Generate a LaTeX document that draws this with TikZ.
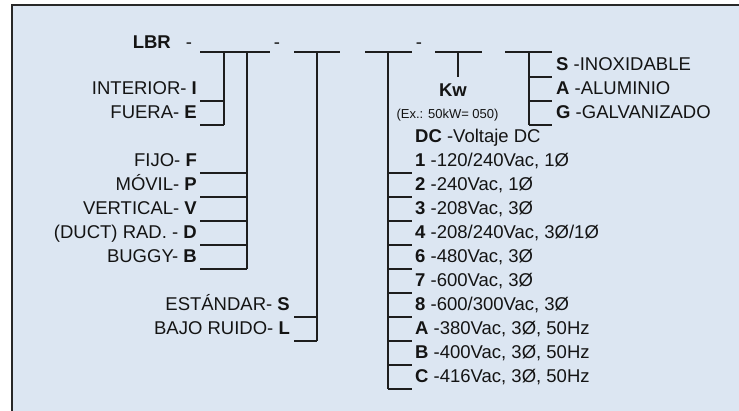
\documentclass[tikz,border=0pt]{standalone}
\usepackage{fontspec}
\setmainfont{Liberation Sans}
\definecolor{bgc}{RGB}{220,230,242}
\definecolor{txt}{RGB}{20,20,20}
\definecolor{wirec}{RGB}{30,30,30}
\definecolor{bordc}{RGB}{40,40,40}
\begin{document}
\begin{tikzpicture}[x=1pt,y=-1pt,
  lbl/.style={inner sep=0pt, font=\fontsize{18.5}{20}\selectfont, text=txt},
  lblL/.style={lbl, anchor=base east},
  lblR/.style={lbl, anchor=base west},
  small/.style={inner sep=0pt, font=\fontsize{13}{15}\selectfont, text=txt, anchor=base},
  wire/.style={line width=1.1pt, draw=wirec}]
\useasboundingbox (0,0) rectangle (739,411);
\fill[bgc] (12,5) rectangle (745,420);
\draw[line width=1.6pt, bordc] (12,420) -- (12,5) -- (745,5);

% header
\node[lblL] (lbr) at (171,48.5) {\textbf{LBR}};
\node[lbl, anchor=base] (d1) at (189,48.5) {-};
\node[lbl, anchor=base] (d2) at (277,48.5) {-};
\node[lbl, anchor=base] (d3) at (419,48.5) {-};

% top lines
\coordinate (t1a) at (200,52); \coordinate (t1b) at (270,52);
\coordinate (t2a) at (294,52); \coordinate (t2b) at (340,52);
\coordinate (t3a) at (365,52); \coordinate (t3b) at (412,52);
\coordinate (t4a) at (435,52); \coordinate (t4b) at (482,52);
\coordinate (t5a) at (505,52); \coordinate (t5b) at (552,52);
\foreach \i in {1,...,5} {\draw[wire] (t\i a) -- (t\i b);}

% group A: interior / fuera
\coordinate (va) at (224,52);
\draw[wire] (va) -- (224,125);
\node[lblL] (iI) at (197,95) {INTERIOR- \textbf{I}};
\node[lblL] (iE) at (197,119) {FUERA- \textbf{E}};
\draw[wire] (200,101) -- (224,101);
\draw[wire] (200,125) -- (224,125);

% group B: mounting
\coordinate (vb) at (247,52);
\draw[wire] (vb) -- (247,269);
\foreach \y/\t in {173/{FIJO- \textbf{F}},197/{MÓVIL- \textbf{P}},221/{VERTICAL- \textbf{V}},245/{(DUCT) RAD. - \textbf{D}},269/{BUGGY- \textbf{B}}} {
  \node[lblL] at (197,\y-6) {\t};
  \draw[wire] (200,\y) -- (247,\y);
}

% group C: noise
\coordinate (vc) at (317,52);
\draw[wire] (vc) -- (317,341);
\node[lblL] (nS) at (290,311) {ESTÁNDAR- \textbf{S}};
\node[lblL] (nL) at (290,335) {BAJO RUIDO- \textbf{L}};
\draw[wire] (294,317) -- (317,317);
\draw[wire] (294,341) -- (317,341);

% group D: voltage
\coordinate (vd) at (388,52);
\draw[wire] (vd) -- (388,389);
\node[lblR] (vDC) at (415,143) {\textbf{DC} -Voltaje DC};
\foreach \y/\t in {173/{\textbf{1} -120/240Vac, 1Ø},197/{\textbf{2} -240Vac, 1Ø},221/{\textbf{3} -208Vac, 3Ø},245/{\textbf{4} -208/240Vac, 3Ø/1Ø},269/{\textbf{6} -480Vac, 3Ø},293/{\textbf{7} -600Vac, 3Ø},317/{\textbf{8} -600/300Vac, 3Ø},341/{\textbf{A} -380Vac, 3Ø, 50Hz},365/{\textbf{B} -400Vac, 3Ø, 50Hz},389/{\textbf{C} -416Vac, 3Ø, 50Hz}} {
  \node[lblR] at (415,\y-6) {\t};
  \draw[wire] (388,\y) -- (412,\y);
}

% group E: kW
\coordinate (ve) at (458,52);
\node[lbl, anchor=base] (kw) at (453,96.5) {\textbf{Kw}};
\draw[wire] (ve) -- (458,77);
\node[small] (ex) at (447.5,118.6) {(Ex.: 50kW= 050)};

% group F: material
\coordinate (vf) at (529,52);
\draw[wire] (vf) -- (529,125);
\node[lblR] (mS) at (556,71) {\textbf{S} -INOXIDABLE};
\node[lblR] (mA) at (556,95) {\textbf{A} -ALUMINIO};
\node[lblR] (mG) at (556,119) {\textbf{G} -GALVANIZADO};
\draw[wire] (529,77) -- (552,77);
\draw[wire] (529,101) -- (552,101);
\draw[wire] (529,125) -- (552,125);
\end{tikzpicture}
\end{document}
